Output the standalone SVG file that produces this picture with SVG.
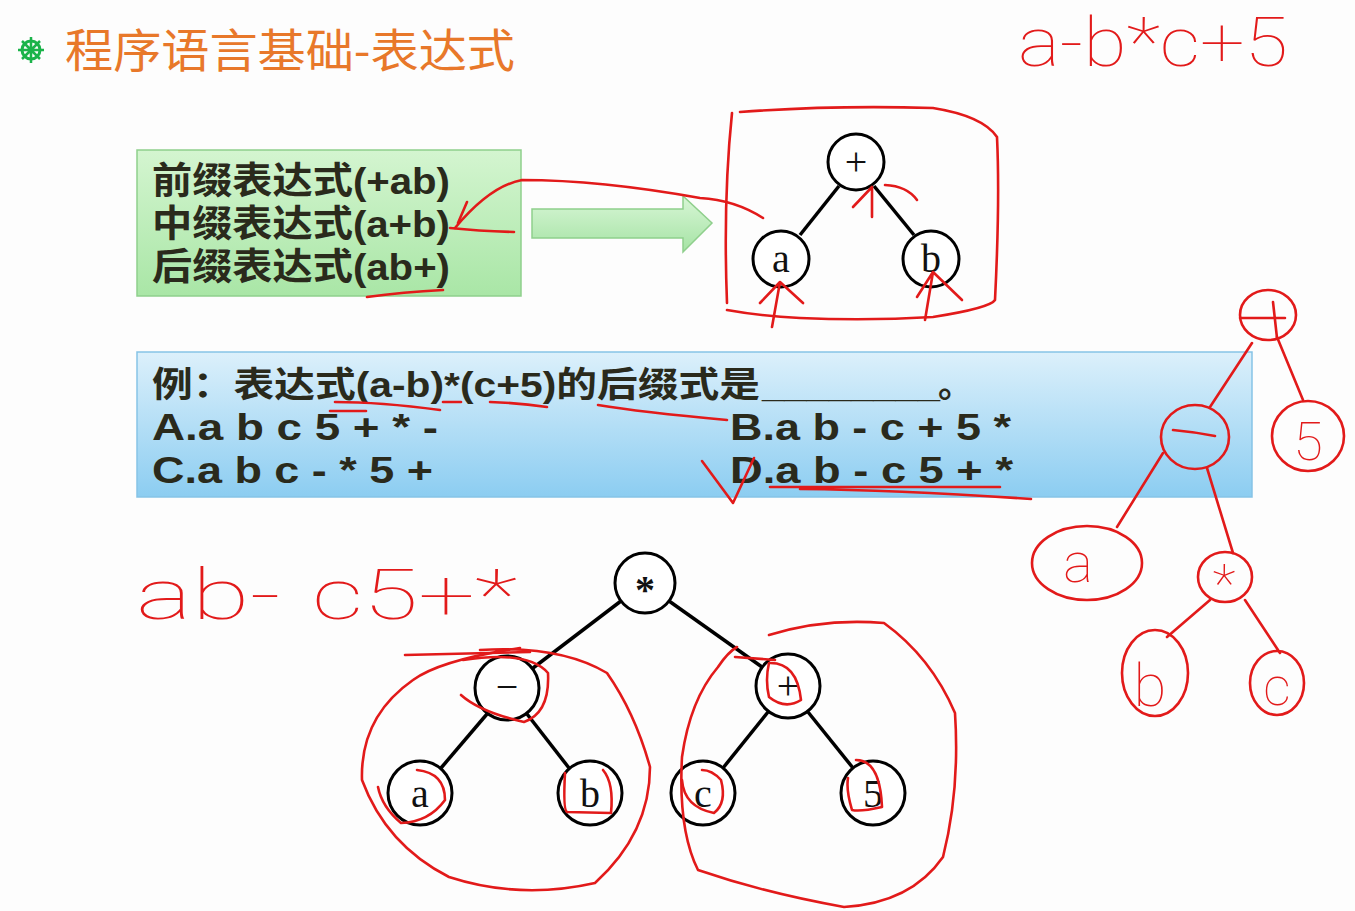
<svg xmlns="http://www.w3.org/2000/svg" width="1355" height="911" viewBox="0 0 1355 911">
<defs>
<linearGradient id="gGreen" x1="0" y1="0" x2="0" y2="1"><stop offset="0" stop-color="#d4f5d0"/><stop offset="1" stop-color="#a9e6a6"/></linearGradient>
<linearGradient id="gBlue" x1="0" y1="0" x2="0" y2="1"><stop offset="0" stop-color="#dcf0fb"/><stop offset="1" stop-color="#8ccdf1"/></linearGradient>
<linearGradient id="gArrow" x1="0" y1="0" x2="0" y2="1"><stop offset="0" stop-color="#d8f6d6"/><stop offset="1" stop-color="#a5e3a4"/></linearGradient>
<style>
.node circle{fill:#fff;stroke:#000;stroke-width:3}
.node text{font-family:"Liberation Serif","Noto Sans CJK SC",serif;font-size:40px;text-anchor:middle;fill:#111}
.edge{stroke:#000;stroke-width:3.5;fill:none}
.ink{fill:none;stroke:#e21a1a;stroke-width:2.6;stroke-linecap:round;stroke-linejoin:round}
.hand{font-family:Roboto,"Liberation Sans","DejaVu Sans",sans-serif;fill:#e21a1a;font-weight:100}
.box{font-family:"Liberation Sans","Noto Sans CJK SC",sans-serif;font-weight:bold;fill:#2a2a1c}
</style>
</defs>
<rect width="1355" height="911" fill="#fdfdfd"/>

<!-- title -->
<g id="title">
<g transform="translate(31,50)" stroke="#1bb34a" fill="none">
<circle r="9" stroke-width="3"/><circle r="3" fill="#1bb34a" stroke="none"/>
<path d="M0,-13V13M-13,0H13M-9,-9L9,9M9,-9L-9,9" stroke-width="2.5"/>
</g>
<text x="65" y="67" font-family="Noto Sans CJK SC,sans-serif" font-size="46" fill="#e8782a" textLength="450" lengthAdjust="spacingAndGlyphs">程序语言基础-表达式</text>
</g>

<!-- green box -->
<g id="green-box">
<rect x="137" y="150" width="384" height="146" fill="url(#gGreen)" stroke="#8fcf8c" stroke-width="1.5"/>
<text class="box" x="152" y="194" font-size="37" textLength="298" lengthAdjust="spacingAndGlyphs">前缀表达式(+ab)</text>
<text class="box" x="152" y="237" font-size="37" textLength="298" lengthAdjust="spacingAndGlyphs">中缀表达式(a+b)</text>
<text class="box" x="152" y="280" font-size="37" textLength="298" lengthAdjust="spacingAndGlyphs">后缀表达式(ab+)</text>
</g>

<g id="green-arrow">
<path d="M532,209H683V196L712,223L683,252V238H532Z" fill="url(#gArrow)" stroke="#8fcf8c" stroke-width="1.5"/>
</g>

<!-- top tree -->
<g id="top-edges">
<line class="edge" x1="839" y1="186" x2="800" y2="235"/>
<line class="edge" x1="874" y1="186" x2="914" y2="235"/>
</g>
<g id="top-plus" class="node"><circle cx="856" cy="162" r="28"/><text x="856" y="175" font-size="36">+</text></g>
<g id="top-a" class="node"><circle cx="781" cy="259" r="28"/><text x="781" y="272">a</text></g>
<g id="top-b" class="node"><circle cx="931" cy="259" r="28"/><text x="931" y="272">b</text></g>

<!-- blue box -->
<g id="blue-box">
<rect x="137" y="352" width="1115" height="145" fill="url(#gBlue)" stroke="#86c3e6" stroke-width="1.5"/>
<text class="box" x="152" y="397" font-size="35" textLength="608" lengthAdjust="spacingAndGlyphs">例：表达式(a-b)*(c+5)的后缀式是</text>
<text class="box" x="762" y="397" font-size="35" textLength="178" lengthAdjust="spacingAndGlyphs">________</text>
<text class="box" x="938" y="397" font-size="35">。</text>
<text class="box" x="152" y="440" font-size="36" textLength="286" lengthAdjust="spacingAndGlyphs">A.a b c 5 + * -</text>
<text class="box" x="730" y="440" font-size="36" textLength="281" lengthAdjust="spacingAndGlyphs">B.a b - c + 5 *</text>
<text class="box" x="152" y="483" font-size="36" textLength="281" lengthAdjust="spacingAndGlyphs">C.a b c - * 5 +</text>
<text class="box" x="730" y="483" font-size="36" textLength="283" lengthAdjust="spacingAndGlyphs">D.a b - c 5 + *</text>
</g>

<!-- bottom tree -->
<g id="bottom-edges">
<line class="edge" x1="621" y1="601" x2="533" y2="668"/>
<line class="edge" x1="669" y1="601" x2="762" y2="667"/>
<line class="edge" x1="487" y1="714" x2="441" y2="768"/>
<line class="edge" x1="527" y1="714" x2="569" y2="768"/>
<line class="edge" x1="768" y1="712" x2="723" y2="768"/>
<line class="edge" x1="808" y1="712" x2="853" y2="768"/>
</g>
<g id="n-mul" class="node"><circle cx="645" cy="583" r="30"/><text x="645" y="603" font-size="44" font-weight="bold">*</text></g>
<g id="n-minus" class="node"><circle cx="507" cy="688" r="32"/><text x="507" y="700" fill="#777">−</text></g>
<g id="n-plus" class="node"><circle cx="788" cy="686" r="32"/><text x="788" y="699">+</text></g>
<g id="n-a" class="node"><circle cx="420" cy="793" r="32"/><text x="420" y="807">a</text></g>
<g id="n-b" class="node"><circle cx="590" cy="793" r="32"/><text x="590" y="807">b</text></g>
<g id="n-c" class="node"><circle cx="703" cy="793" r="32"/><text x="703" y="807">c</text></g>
<g id="n-5" class="node"><circle cx="873" cy="793" r="32"/><text x="873" y="807">5</text></g>

<!-- handwritten annotations -->
<g id="annotations">
<text class="hand" x="1018" y="66" font-size="68" textLength="270" lengthAdjust="spacingAndGlyphs">a-b*c+5</text>
<text class="hand" x="136" y="619" font-size="70" textLength="145" lengthAdjust="spacingAndGlyphs">ab-</text>
<text class="hand" x="312" y="619" font-size="70" textLength="205" lengthAdjust="spacingAndGlyphs">c5+*</text>

<!-- top tree box & arrows -->
<path class="ink" d="M740,112Q833,105 933,108Q983,116 997,137Q1000,200 995,300Q990,308 933,317Q867,321 800,318Q760,316 727,310"/>
<path class="ink" d="M732,113Q723,200 727,303"/>
<path class="ink" d="M763,218Q735,200 700,198Q600,180 522,180Q490,186 455,228"/>
<path class="ink" d="M467,202L458,223M450,228Q480,231 514,232"/>
<path class="ink" d="M367,297Q403,292 443,290"/>
<path class="ink" d="M872,217V187M853,207L872,187M885,185Q907,186 917,200"/>
<path class="ink" d="M772,327L780,282M760,303L780,282L803,303"/>
<path class="ink" d="M925,320L933,272M917,297L933,272L962,300"/>

<!-- blue box marks -->
<path class="ink" d="M335,402Q380,402 440,410"/>
<path class="ink" d="M330,411L366,411"/>
<path class="ink" d="M443,402L461,402"/>
<path class="ink" d="M490,402Q520,403 547,407"/>
<path class="ink" d="M598,405Q640,412 727,420"/>
<path class="ink" d="M702,461L733,503L754,458"/>
<path class="ink" d="M770,487L1000,487M800,489Q900,490 1031,499"/>

<!-- bottom tree loops -->
<path class="ink" d="M405,655L530,652"/>
<path class="ink" d="M480,650Q560,645 607,673Q635,713 650,767Q650,833 595,883Q520,900 449,877Q386,845 362,780Q360,717 413,680Q440,660 520,648"/>
<path class="ink" d="M769,635Q824,618 884,623Q931,657 955,713Q960,790 943,857Q911,903 844,907Q765,893 698,870Q678,830 682,757Q690,700 718,667Q728,652 737,647"/>
<path class="ink" d="M735,657L775,660"/>
<path class="ink" d="M463,660Q528,650 548,673Q550,713 524,722Q480,712 461,695"/>
<path class="ink" d="M769,663Q797,662 801,700Q785,710 769,697Q765,680 769,663"/>
<path class="ink" d="M378,787Q382,807 401,823Q429,822 445,800Q445,773 417,770"/>
<path class="ink" d="M565,773Q563,810 567,812L611,813Q614,783 603,770"/>
<path class="ink" d="M682,780Q684,807 714,813Q727,803 721,780Q712,770 702,770"/>
<path class="ink" d="M856,760Q880,760 882,807Q860,812 852,810Q846,790 848,778"/>

<!-- red tree on right -->
<ellipse class="ink" cx="1268" cy="315" rx="28" ry="25"/>
<path class="ink" d="M1240,318L1285,318M1273,302L1277,338"/>
<path class="ink" d="M1252,343L1210,407M1277,337L1303,400"/>
<ellipse class="ink" cx="1195" cy="437" rx="34" ry="32"/>
<path class="ink" d="M1173,430Q1195,432 1215,436"/>
<ellipse class="ink" cx="1308" cy="436" rx="36" ry="35"/>
<text class="hand" x="1308" y="460" font-size="54" text-anchor="middle">5</text>
<path class="ink" d="M1163,453L1117,527M1207,468L1233,553"/>
<ellipse class="ink" cx="1087" cy="563" rx="55" ry="37"/>
<text class="hand" x="1078" y="582" font-size="56" text-anchor="middle">a</text>
<ellipse class="ink" cx="1225" cy="577" rx="27" ry="25"/>
<text class="hand" x="1224" y="602" font-size="54" text-anchor="middle">*</text>
<path class="ink" d="M1210,600L1167,637M1245,600L1280,653"/>
<ellipse class="ink" cx="1155" cy="673" rx="33" ry="43"/>
<text class="hand" x="1150" y="706" font-size="60" text-anchor="middle">b</text>
<ellipse class="ink" cx="1277" cy="683" rx="27" ry="32"/>
<text class="hand" x="1277" y="705" font-size="54" text-anchor="middle">c</text>
</g>
</svg>
